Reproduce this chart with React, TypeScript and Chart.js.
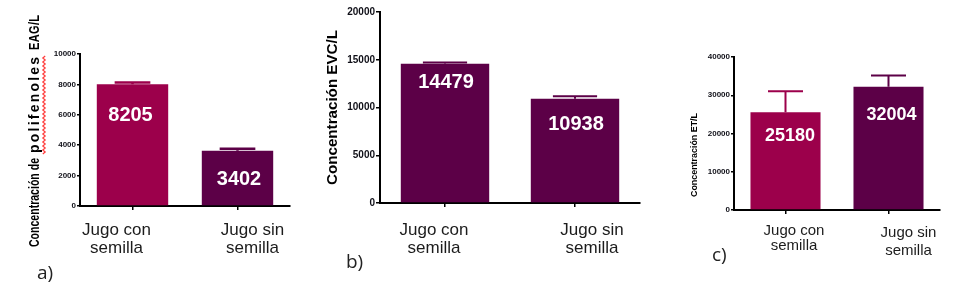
import React, { useEffect, useRef } from "react";
import { Chart, registerables } from "chart.js";

Chart.register(...registerables);

// ---------- data ----------
const categories: string[][] = [
  ["Jugo con", "semilla"],
  ["Jugo sin", "semilla"],
];

const barsA = [8010, 3640];
const errA = [120, 130];
const labelsA = [8205, 3402];
const ticksA = { max: 10000, step: 2000 };

const barsB = [14580, 10910];
const errB = [125, 260];
const labelsB = [14479, 10938];
const ticksB = { max: 20000, step: 5000 };

const barsC = [25540, 32240];
const errC = [5490, 2920];
const labelsC = [25180, 32004];
const ticksC = { max: 40000, step: 10000 };

const CRIMSON = "#9c004b";
const PURPLE = "#5c0047";

const SANS = '"Liberation Sans", Arial, sans-serif';

type Panel = {
  key: string;
  left: number;
  w: number;
  values: number[];
  errors: number[];
  labels: number[];
  colors: string[];
  max: number;
  step: number;
  tickFont: number;
  tickLen: number;
  tickPad: number;
  yWidth: number;
  pad: { left: number; right: number; top: number; bottom: number };
  errLw: number;
  valueFont: string;
  valueDx: number[];
  valueDy: number[];
  catFont: string;
  catDx: number[];
  catBase: number[][];
  titleFont: string;
  titleX: number;
  titleSegs: [string, number, number][];
  wavy?: { x: number; y0: number; y1: number };
  letter: { text: string; x: number; y: number };
};

const panels: Panel[] = [
  {
    key: "a",
    left: 0,
    w: 320,
    values: barsA,
    errors: errA,
    labels: labelsA,
    colors: [CRIMSON, PURPLE],
    max: ticksA.max,
    step: ticksA.step,
    tickFont: 8,
    tickLen: 3,
    tickPad: 1,
    yWidth: 80,
    pad: { left: 0, right: 30, top: 54, bottom: 78 },
    errLw: 2.5,
    valueFont: `bold 20px ${SANS}`,
    valueDx: [-2, 1.5],
    valueDy: [31, 29],
    catFont: `17px ${SANS}`,
    catDx: [-16, 15],
    catBase: [
      [29, 47],
      [29, 47],
    ],
    titleFont: `bold 14px ${SANS}`,
    titleX: 35,
    titleSegs: [
      ["Concentración de", 247, 158],
      ["polifenoles", 153, 57],
      ["EAG/L", 50, 15],
    ],
    wavy: { x: 44, y0: 154, y1: 56 },
    letter: { text: "a)", x: 37, y: 279 },
  },
  {
    key: "b",
    left: 320,
    w: 340,
    values: barsB,
    errors: errB,
    labels: labelsB,
    colors: [PURPLE, PURPLE],
    max: ticksB.max,
    step: ticksB.step,
    tickFont: 10,
    tickLen: 4,
    tickPad: 1,
    yWidth: 60,
    pad: { left: 0, right: 20, top: 12, bottom: 81 },
    errLw: 2,
    valueFont: `bold 20px ${SANS}`,
    valueDx: [1, 1],
    valueDy: [19, 26],
    catFont: `17px ${SANS}`,
    catDx: [-11, 17],
    catBase: [
      [32, 50],
      [32, 50],
    ],
    titleFont: `bold 14px ${SANS}`,
    titleX: 13,
    titleSegs: [["Concentración EVC/L", 185, 30]],
    letter: { text: "b)", x: 26, y: 268 },
  },
  {
    key: "c",
    left: 660,
    w: 320,
    values: barsC,
    errors: errC,
    labels: labelsC,
    colors: [CRIMSON, PURPLE],
    max: ticksC.max,
    step: ticksC.step,
    tickFont: 8,
    tickLen: 3,
    tickPad: 1,
    yWidth: 74,
    pad: { left: 0, right: 40, top: 57, bottom: 74 },
    errLw: 2,
    valueFont: `bold 18px ${SANS}`,
    valueDx: [4.5, 3],
    valueDy: [24, 28],
    catFont: `15px ${SANS}`,
    catDx: [8.5, 20],
    catBase: [
      [25, 40],
      [27, 45],
    ],
    titleFont: `bold 9px ${SANS}`,
    titleX: 35,
    titleSegs: [["Concentración ET/L", 197, 113]],
    letter: { text: "c)", x: 52, y: 261 },
  },
];

function makeDecor(p: Panel) {
  return {
    id: "decor_" + p.key,
    afterDatasetsDraw(chart: any) {
      const ctx = chart.ctx as CanvasRenderingContext2D;
      const ys = chart.scales.y;
      const meta = chart.getDatasetMeta(0);
      meta.data.forEach((el: any, i: number) => {
        const { x, width } = el.getProps(["x", "width"], true);
        const yTop = ys.getPixelForValue(p.values[i]);
        const yErr = ys.getPixelForValue(p.values[i] + p.errors[i]);
        ctx.save();
        ctx.strokeStyle = p.colors[i];
        ctx.lineWidth = p.errLw;
        ctx.beginPath();
        ctx.moveTo(x, yTop);
        ctx.lineTo(x, yErr);
        ctx.moveTo(x - width / 4, yErr);
        ctx.lineTo(x + width / 4, yErr);
        ctx.stroke();
        ctx.fillStyle = "#ffffff";
        ctx.font = p.valueFont;
        ctx.textAlign = "center";
        ctx.textBaseline = "middle";
        ctx.fillText(String(p.labels[i]), x + p.valueDx[i], yTop + p.valueDy[i]);
        ctx.restore();
      });
    },
    afterDraw(chart: any) {
      const ctx = chart.ctx as CanvasRenderingContext2D;
      const xs = chart.scales.x;
      const bottom = chart.chartArea.bottom;
      // category labels
      ctx.save();
      ctx.fillStyle = "#1c1c1c";
      ctx.font = p.catFont;
      ctx.textAlign = "center";
      ctx.textBaseline = "alphabetic";
      categories.forEach((lines, i) => {
        const cx = xs.getPixelForValue(i) + p.catDx[i];
        lines.forEach((ln, k) => ctx.fillText(ln, cx, bottom + p.catBase[i][k]));
      });
      ctx.restore();

      // y title (rotated)
      ctx.save();
      ctx.translate(p.titleX, 0);
      ctx.rotate(-Math.PI / 2);
      ctx.font = p.titleFont;
      ctx.fillStyle = "#000000";
      ctx.textBaseline = "middle";
      ctx.textAlign = "left";
      (ctx as any).letterSpacing = "0px";
      const first = p.titleSegs[0];
      const s = (first[1] - first[2]) / ctx.measureText(first[0]).width;
      p.titleSegs.forEach(([t, y0, y1]) => {
        (ctx as any).letterSpacing = "0px";
        const w = ctx.measureText(t).width;
        const target = y0 - y1;
        // mix of horizontal scaling and letter spacing to fill the target length
        const ratio = target / (w * s);
        const sx = ratio > 1 ? s * Math.sqrt(ratio) : target / w;
        const n = t.length;
        const ls = n > 1 ? Math.max(0, (target - w * sx) / (n - 1)) : 0;
        ctx.save();
        ctx.scale(sx, 1);
        (ctx as any).letterSpacing = (ls / sx).toFixed(2) + "px";
        ctx.fillText(t, -y0 / sx, 0);
        ctx.restore();
      });
      (ctx as any).letterSpacing = "0px";
      ctx.restore();

      // spell-check wavy underline
      if (p.wavy) {
        const { x, y0, y1 } = p.wavy;
        ctx.save();
        ctx.strokeStyle = "#ff3b3b";
        ctx.lineWidth = 1.2;
        ctx.beginPath();
        let k = 0;
        for (let y = y0; y >= y1; y -= 2) {
          const xx = x + (k % 2 === 0 ? -1.2 : 1.2);
          if (k === 0) ctx.moveTo(xx, y);
          else ctx.lineTo(xx, y);
          k++;
        }
        ctx.stroke();
        ctx.restore();
      }

      // panel letter
      ctx.save();
      ctx.fillStyle = "#222222";
      ctx.font = '19px "Open Sans", "Noto Sans", sans-serif';
      ctx.textAlign = "left";
      ctx.textBaseline = "alphabetic";
      ctx.fillText(p.letter.text, p.letter.x, p.letter.y);
      ctx.restore();
    },
  };
}

function BarPanel({ p }: { p: Panel }) {
  const ref = useRef<HTMLCanvasElement | null>(null);
  useEffect(() => {
    if (!ref.current) return;
    const chart = new Chart(ref.current, {
      type: "bar",
      data: {
        labels: categories.map((c) => c.join(" ")),
        datasets: [
          {
            data: p.values,
            backgroundColor: p.colors,
            borderWidth: 0,
            barPercentage: 0.68,
            categoryPercentage: 1,
          },
        ],
      },
      options: {
        animation: false,
        responsive: false,
        maintainAspectRatio: false,
        devicePixelRatio: 1,
        layout: { padding: p.pad },
        plugins: {
          legend: { display: false },
          tooltip: { enabled: false },
        },
        scales: {
          x: {
            offset: true,
            z: 1,
            grid: {
              display: true,
              drawOnChartArea: false,
              drawTicks: true,
              tickLength: 4,
              color: "#000000",
              lineWidth: 1.5,
              offset: false,
            },
            border: { display: true, color: "#000000", width: 2 },
            ticks: { display: false },
            afterFit: (s: any) => {
              s.height = 10;
              s.paddingLeft = 0;
              s.paddingRight = 0;
            },
          },
          y: {
            min: 0,
            max: p.max,
            z: 1,
            ticks: {
              stepSize: p.step,
              padding: p.tickPad,
              color: "#101018",
              font: { family: SANS, weight: "bold", size: p.tickFont },
              callback: (v: any) => String(v),
            },
            grid: {
              drawOnChartArea: false,
              drawTicks: true,
              tickLength: p.tickLen,
              color: "#000000",
              lineWidth: 1.5,
            },
            border: { display: true, color: "#000000", width: 2 },
            afterFit: (s: any) => {
              s.width = p.yWidth;
              s.paddingTop = 0;
              s.paddingBottom = 0;
            },
          },
        },
      } as any,
      plugins: [makeDecor(p)],
    });
    return () => chart.destroy();
  }, [p]);
  return (
    <canvas
      ref={ref}
      width={p.w}
      height={294}
      style={{ position: "absolute", left: p.left, top: 0, width: p.w, height: 294 }}
    />
  );
}

export default function App() {
  return (
    <div
      style={{
        position: "absolute",
        left: 0,
        top: 0,
        width: 980,
        height: 294,
        background: "#ffffff",
        overflow: "hidden",
      }}
    >
      {panels.map((p) => (
        <BarPanel key={p.key} p={p} />
      ))}
    </div>
  );
}
